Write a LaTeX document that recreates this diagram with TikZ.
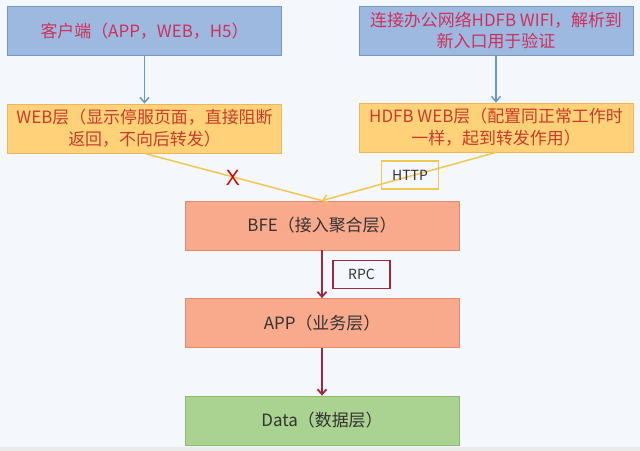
\documentclass[tikz,border=0pt]{standalone}
\usepackage{fontspec}
\setmainfont{Noto Sans CJK SC}
\usetikzlibrary{arrows.meta}
\definecolor{bgblue}{RGB}{244,247,251}
\definecolor{clientblue}{RGB}{157,185,224}
\definecolor{clientedge}{RGB}{120,150,196}
\definecolor{clienttext}{RGB}{206,48,92}
\definecolor{webyellow}{RGB}{255,210,122}
\definecolor{webedge}{RGB}{240,180,90}
\definecolor{webtext}{RGB}{200,60,40}
\definecolor{bfesalmon}{RGB}{249,170,140}
\definecolor{bfeedge}{RGB}{228,138,108}
\definecolor{datagreen}{RGB}{170,210,145}
\definecolor{dataedge}{RGB}{140,185,110}
\definecolor{flowblue}{RGB}{110,150,190}
\definecolor{flowyellow}{RGB}{240,200,80}
\definecolor{flowred}{RGB}{160,40,60}

\begin{document}
\begin{tikzpicture}[x=1bp, y=-1bp,
    layer/.style={draw, line width=0.8bp, minimum width=274bp, minimum height=49bp,
        inner sep=0pt, align=center, font=\fontsize{17}{22}\selectfont},
    tag/.style={draw, line width=1.2bp, minimum width=57bp, minimum height=28bp,
        inner sep=0pt, font=\fontsize{14}{16}\selectfont, text=black!80}]
    % background
    \fill[bgblue] (0,0) rectangle (640,451);
    \fill[black!8] (0,447) rectangle (640,451);

    % entry points
    \node[layer, fill=clientblue, draw=clientedge, text=clienttext] (client) at (144.5,31) {客户端（APP，WEB，H5）};
    \node[layer, fill=clientblue, draw=clientedge, text=clienttext] (wifi) at (496,30.5) {连接办公网络HDFB WIFI，解析到\\新入口用于验证};

    % web layers
    \node[layer, fill=webyellow, draw=webedge, text=webtext] (web) at (144.5,128.5) {WEB层（显示停服页面，直接阻断\\返回，不向后转发）};
    \node[layer, fill=webyellow, draw=webedge, text=webtext] (hdfb) at (496,127.5) {HDFB WEB层（配置同正常工作时\\一样，起到转发作用）};

    % backend
    \node[layer, fill=bfesalmon, draw=bfeedge, text=black!80] (bfe) at (322,225.5) {BFE（接入聚合层）};
    \node[layer, fill=bfesalmon, draw=bfeedge, text=black!80] (app) at (322,323) {APP（业务层）};
    \node[layer, fill=datagreen, draw=dataedge, text=black!80] (data) at (322,420.5) {Data（数据层）};

    \draw[-{Straight Barb[length=5bp,width=9bp]}, flowblue, line width=1.5bp] (client) -- (web);
    \draw[-{Straight Barb[length=5bp,width=9bp]}, flowblue, line width=1.5bp] (wifi) -- (hdfb);
    \draw[flowyellow, line width=1.5bp] (web.south) -- (bfe.north);
    \draw[-{Straight Barb[length=5bp,width=9bp]}, flowyellow, line width=1.5bp] (hdfb.south) -- (bfe.north);
    \draw[-{Straight Barb[length=5bp,width=9bp]}, flowred, line width=1.8bp] (bfe) -- (app);
    \draw[-{Straight Barb[length=5bp,width=9bp]}, flowred, line width=1.8bp] (app) -- (data);

    \node[text=red!80!black, font=\fontsize{22}{22}\selectfont\sffamily] (cut) at (233,178) {X};
    \node[tag, draw=flowyellow] (http) at (410,175) {HTTP};
    \node[tag, draw=flowred] (rpc) at (361.5,274.5) {RPC};
\end{tikzpicture}
\end{document}
